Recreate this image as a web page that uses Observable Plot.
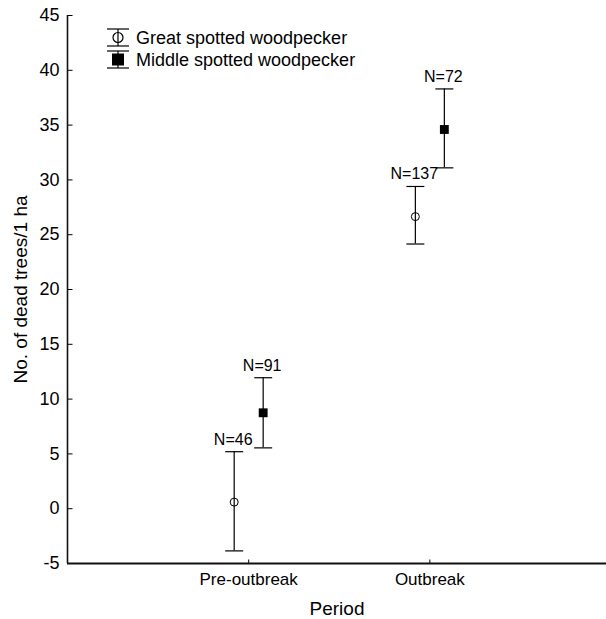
<!DOCTYPE html>
<html><head><meta charset="utf-8">
<script src="https://cdn.jsdelivr.net/npm/d3@7"></script>
<script src="https://cdn.jsdelivr.net/npm/@observablehq/plot@0.6"></script>
<style>
body{margin:0;background:#fff;font-family:"Liberation Sans",Arial,sans-serif;}
#wrap{position:relative;width:606px;height:619px;}
#legend{position:absolute;left:0;top:0;pointer-events:none;}
</style></head><body><div id="wrap"></div>
<script>
// ---- data ----
const periods = ["Pre-outbreak", "Outbreak"];
const species = ["Great spotted woodpecker", "Middle spotted woodpecker"];
const greatMean = [0.6, 26.65];
const greatLow = [-3.85, 24.15];
const greatHigh = [5.2, 29.4];
const greatN = [46, 137];
const middleMean = [8.75, 34.6];
const middleLow = [5.55, 31.1];
const middleHigh = [11.95, 38.3];
const middleN = [91, 72];
const yTicks = [-5, 0, 5, 10, 15, 20, 25, 30, 35, 40, 45];
const xLabel = "Period";
const yLabel = "No. of dead trees/1 ha";

// ---- table ----
const dodge = {[species[0]]: -0.08, [species[1]]: 0.08};
const rows = [];
periods.forEach((p, i) => {
  rows.push({period: p, species: species[0], pos: i + 1 + dodge[species[0]], mean: greatMean[i], low: greatLow[i], high: greatHigh[i], n: greatN[i]});
  rows.push({period: p, species: species[1], pos: i + 1 + dodge[species[1]], mean: middleMean[i], low: middleLow[i], high: middleHigh[i], n: middleN[i]});
});
const great = rows.filter(d => d.species === species[0]);
const middle = rows.filter(d => d.species === species[1]);
const periodPos = periods.map((p, i) => i + 1);

const capSym = {draw(ctx) { ctx.moveTo(-9, 0); ctx.lineTo(9, 0); }};
const tickRight = {draw(ctx) { ctx.moveTo(0, 0); ctx.lineTo(5, 0); }};
const tickUp = {draw(ctx) { ctx.moveTo(0, 0); ctx.lineTo(0, -4); }};

const chart = Plot.plot({
  width: 606,
  height: 619,
  marginTop: 15,
  marginBottom: 56,
  marginLeft: 67,
  marginRight: 0,
  style: {fontFamily: "'Liberation Sans', Arial, sans-serif", background: "#fff", color: "#000", overflow: "visible"},
  x: {type: "linear", domain: [0, 2.975]},
  y: {domain: [-5, 45]},
  marks: [
    Plot.axisY({ticks: yTicks, tickFormat: d => String(d), tickSize: 0, tickPadding: 8, fontSize: 18, label: null}),
    Plot.axisX({ticks: periodPos, tickFormat: d => periods[d - 1], tickSize: 0, tickPadding: 9, fontSize: 17, label: null}),
    Plot.dot(yTicks, {y: d => d, frameAnchor: "left", symbol: tickRight, stroke: "#000", fill: "none", strokeWidth: 1}),
    Plot.dot(periodPos, {x: d => d, frameAnchor: "bottom", symbol: tickUp, stroke: "#000", fill: "none", strokeWidth: 1}),
    Plot.ruleX([0], {stroke: "#111", strokeWidth: 1.6}),
    Plot.ruleY([-5], {stroke: "#111", strokeWidth: 1.8}),
    Plot.ruleX(rows, {x: "pos", y1: "low", y2: "high", stroke: "#000", strokeWidth: 1.2}),
    Plot.dot(rows, {x: "pos", y: "low", symbol: capSym, stroke: "#000", fill: "none", strokeWidth: 1.2}),
    Plot.dot(rows, {x: "pos", y: "high", symbol: capSym, stroke: "#000", fill: "none", strokeWidth: 1.2}),
    Plot.dot(great, {x: "pos", y: "mean", r: 4, stroke: "#000", fill: "none", strokeWidth: 1}),
    Plot.dot(middle, {x: "pos", y: "mean", r: 5, symbol: "square", fill: "#000", stroke: "none"}),
    Plot.text(rows, {x: "pos", y: "high", text: d => "N=" + d.n, dy: -7, dx: -1, lineAnchor: "bottom", fontSize: 16, fill: "#000"}),
    Plot.text([xLabel], {text: d => d, frameAnchor: "bottom", textAnchor: "middle", dy: 51, lineAnchor: "bottom", fontSize: 19, fill: "#000"}),
    Plot.text([yLabel], {text: d => d, frameAnchor: "left", textAnchor: "middle", rotate: -90, dx: -41, lineAnchor: "bottom", fontSize: 19, fill: "#000"})
  ]
});
const wrap = document.getElementById("wrap");
wrap.appendChild(chart);

// ---- legend ----
const lg = d3.select(wrap).append("svg").attr("id", "legend").attr("width", 606).attr("height", 619)
  .style("font-family", "'Liberation Sans', Arial, sans-serif");
const items = [
  {label: species[0], top: 29, bottom: 46, cy: 37.5, kind: "circle", ty: 43.5},
  {label: species[1], top: 51, bottom: 68, cy: 59.5, kind: "square", ty: 65.5}
];
items.forEach(it => {
  const g = lg.append("g").attr("stroke", "#000").attr("stroke-width", 1.2);
  g.append("line").attr("x1", 118).attr("x2", 118).attr("y1", it.top).attr("y2", it.bottom);
  g.append("line").attr("x1", 107).attr("x2", 129).attr("y1", it.top).attr("y2", it.top);
  g.append("line").attr("x1", 107).attr("x2", 129).attr("y1", it.bottom).attr("y2", it.bottom);
  if (it.kind === "circle") g.append("circle").attr("cx", 118).attr("cy", it.cy).attr("r", 5).attr("fill", "none");
  else g.append("rect").attr("x", 112).attr("y", it.cy - 6).attr("width", 12).attr("height", 12).attr("fill", "#000").attr("stroke", "none");
  lg.append("text").attr("x", 136).attr("y", it.ty).attr("font-size", 18).attr("fill", "#000").text(it.label);
});
</script></body></html>
